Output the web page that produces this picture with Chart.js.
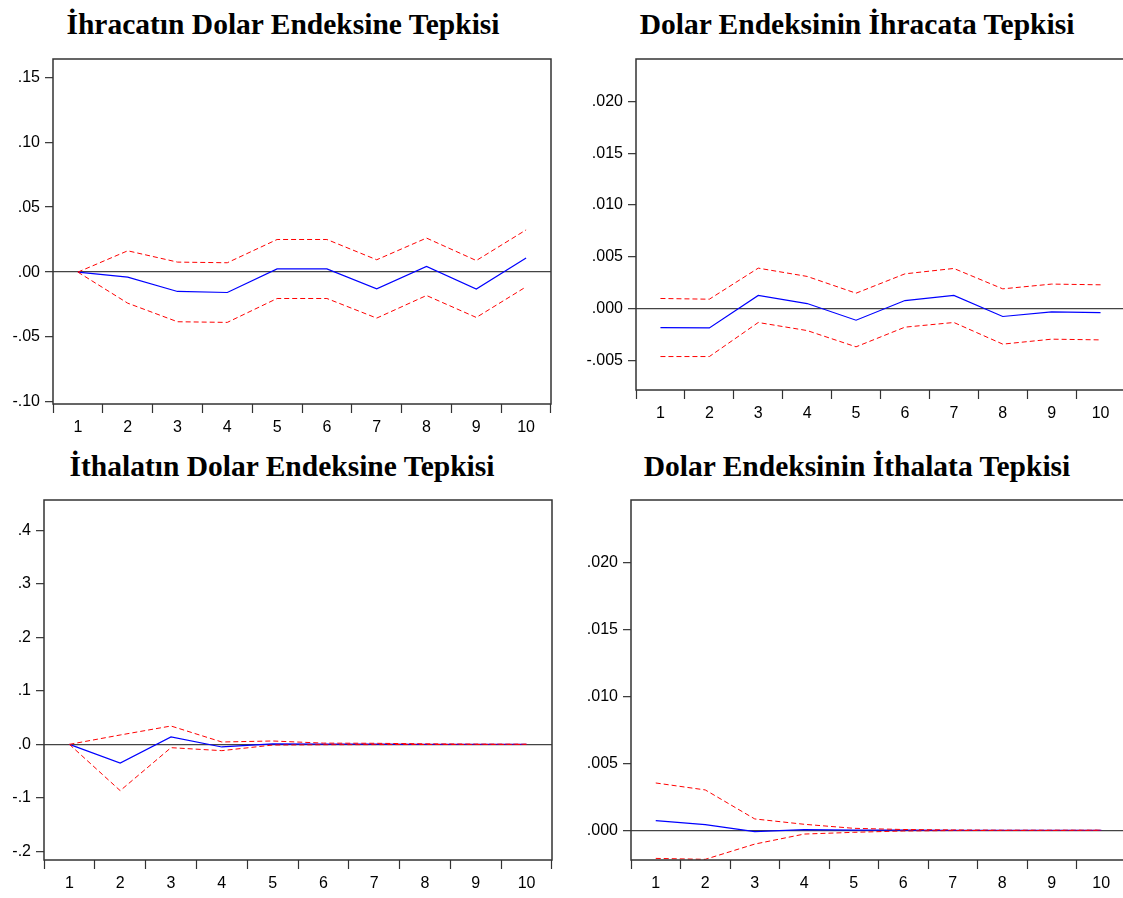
<!DOCTYPE html>
<html>
<head>
<meta charset="utf-8">
<script src="https://cdn.jsdelivr.net/npm/chart.js@4"></script>
<style>
  html, body { margin: 0; padding: 0; background: #fff; }
  body { width: 1123px; height: 898px; overflow: hidden; position: relative; }
  .title {
    position: absolute; width: 560px; text-align: center;
    font-family: "Liberation Serif", "Times New Roman", serif;
    font-weight: bold; font-size: 29.5px; color: #000; line-height: 32px;
  }
  canvas { position: absolute; }
</style>
</head>
<body>
<div class="title" style="left:3px; top:8px;">İhracatın Dolar Endeksine Tepkisi</div>
<div class="title" style="left:577px; top:8px;">Dolar Endeksinin İhracata Tepkisi</div>
<div class="title" style="left:2px; top:450px;">İthalatın Dolar Endeksine Tepkisi</div>
<div class="title" style="left:577px; top:450px;">Dolar Endeksinin İthalata Tepkisi</div>

<canvas id="c1" width="553" height="387" style="left:0px; top:57px;"></canvas>
<canvas id="c2" width="567" height="373" style="left:560px; top:57px;"></canvas>
<canvas id="c3" width="554" height="400" style="left:0px; top:498px;"></canvas>
<canvas id="c4" width="568" height="400" style="left:560px; top:498px;"></canvas>

<script>
// Dönemler
const periods = ['1', '2', '3', '4', '5', '6', '7', '8', '9', '10'];

// İhracatın dolar endeksine tepkisi
const ihrResp  = [0, -0.0039, -0.0149, -0.0157, 0.0025, 0.0025, -0.0128, 0.0043, -0.0131, 0.0108];
const ihrUpper = [0, 0.0164, 0.0077, 0.0072, 0.0251, 0.0251, 0.0095, 0.0262, 0.0089, 0.0325];
const ihrLower = [0, -0.0239, -0.0382, -0.0387, -0.0203, -0.0203, -0.0354, -0.0180, -0.0349, -0.0113];

// Dolar endeksinin ihracata tepkisi
const dolIhrResp  = [-0.00184, -0.00187, 0.00126, 0.00048, -0.00113, 0.00077, 0.00126, -0.00077, -0.00032, -0.00039];
const dolIhrUpper = [0.00097, 0.00090, 0.00390, 0.00310, 0.00148, 0.00335, 0.00387, 0.00190, 0.00236, 0.00229];
const dolIhrLower = [-0.00464, -0.00464, -0.00135, -0.00213, -0.00370, -0.00180, -0.00135, -0.00344, -0.00296, -0.00303];

// İthalatın dolar endeksine tepkisi
const ithResp  = [0, -0.0349, 0.0138, -0.0049, 0.0010, 0.0005, 0.0003, 0.0001, 0, 0];
const ithUpper = [0, 0.0175, 0.0343, 0.0044, 0.0063, 0.0023, 0.0020, 0.0010, 0.0005, 0.0003];
const ithLower = [0, -0.0866, -0.0062, -0.0118, -0.0013, -0.0007, -0.0005, -0.0003, -0.0002, -0.0001];

// Dolar endeksinin ithalata tepkisi
const dolIthResp  = [0.00072, 0.00042, -0.00010, 0.00005, 0.00002, 0.00001, 0, 0, 0, 0];
const dolIthUpper = [0.00354, 0.00302, 0.00085, 0.00045, 0.00015, 0.00006, 0.00003, 0.00001, 0.00001, 0.00001];
const dolIthLower = [-0.00210, -0.00217, -0.00103, -0.00028, -0.00015, -0.00005, -0.00002, -0.00001, -0.00001, 0];

// Y ekseni işaretleri
const yTicks1 = [-0.10, -0.05, 0, 0.05, 0.10, 0.15];
const yTicks2 = [-0.005, 0, 0.005, 0.010, 0.015, 0.020];
const yTicks3 = [-0.2, -0.1, 0, 0.1, 0.2, 0.3, 0.4];
const yTicks4 = [0, 0.005, 0.010, 0.015, 0.020];

// EViews tarzı etiket: ".05", "-.10"
function fmt(v, d) {
    const s = Math.abs(v).toFixed(d).replace(/^0/, '');
    return (v < -1e-12 ? '-' : '') + s;
}

// Çerçeve çizen küçük eklenti
const framePlugin = {
    id: 'frame',
    afterDraw(chart) {
        const a = chart.chartArea;
        const ctx = chart.ctx;
        ctx.save();
        ctx.strokeStyle = '#333';
        ctx.lineWidth = 1.5;
        ctx.strokeRect(a.left, a.top, a.right - a.left, a.bottom - a.top);
        ctx.restore();
    }
};

function makePanel(id, resp, upper, lower, yMin, yMax, yTicks, decimals, axisWidth, xHeight) {
    return new Chart(document.getElementById(id), {
        type: 'line',
        data: {
            labels: periods,
            datasets: [
                { data: upper, borderColor: '#ff0000', borderWidth: 1, borderDash: [5, 3] },
                { data: lower, borderColor: '#ff0000', borderWidth: 1, borderDash: [5, 3] },
                { data: resp, borderColor: '#0000ff', borderWidth: 1.2 },
            ],
        },
        options: {
            responsive: false,
            maintainAspectRatio: false,
            animation: false,
            layout: { padding: { top: 2, right: 2, left: 0, bottom: 0 } },
            elements: { point: { radius: 0 }, line: { tension: 0 } },
            plugins: { legend: { display: false }, tooltip: { enabled: false }, title: { display: false } },
            scales: {
                x: {
                    offset: true,
                    grid: { offset: true, drawOnChartArea: false, drawTicks: true, tickLength: 9, tickColor: '#333', tickWidth: 1.2 },
                    border: { display: false },
                    ticks: {
                        color: '#000', padding: 5, maxRotation: 0, autoSkip: false,
                        font: { family: '"Liberation Sans", Arial, sans-serif', size: 16 },
                    },
                    afterFit: (scale) => {
                        scale.height = xHeight;
                        scale.paddingLeft = 0;
                        scale.paddingRight = 0;
                    },
                },
                y: {
                    min: yMin,
                    max: yMax,
                    afterBuildTicks: (scale) => { scale.ticks = yTicks.map(v => ({ value: v })); },
                    grid: {
                        drawTicks: true, tickLength: 8, tickColor: '#333', tickWidth: 1.2,
                        color: (ctx) => (ctx.tick && Math.abs(ctx.tick.value) < 1e-12 ? '#444' : 'rgba(0,0,0,0)'),
                        lineWidth: 1.3,
                    },
                    border: { display: false },
                    ticks: {
                        color: '#000', padding: 5,
                        font: { family: '"Liberation Sans", Arial, sans-serif', size: 16 },
                        callback: (v) => fmt(v, decimals),
                    },
                    afterFit: (scale) => {
                        scale.width = axisWidth;
                        scale.paddingTop = 0;
                        scale.paddingBottom = 0;
                    },
                },
            },
        },
        plugins: [framePlugin],
    });
}

makePanel('c1', ihrResp, ihrUpper, ihrLower, -0.1015, 0.164, yTicks1, 2, 53, 40);
makePanel('c2', dolIhrResp, dolIhrUpper, dolIhrLower, -0.00787, 0.0241, yTicks2, 3, 76, 40);
makePanel('c3', ithResp, ithUpper, ithLower, -0.2163, 0.457, yTicks3, 1, 44, 38);
makePanel('c4', dolIthResp, dolIthUpper, dolIthLower, -0.00222, 0.0247, yTicks4, 3, 71, 38);
</script>
</body>
</html>
